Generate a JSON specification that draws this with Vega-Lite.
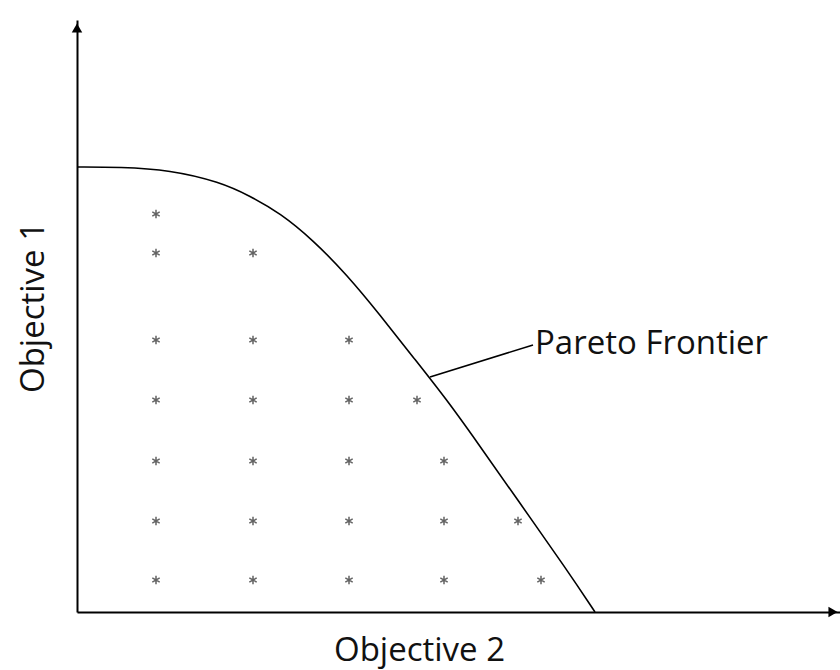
{
  "$schema": "https://vega.github.io/schema/vega-lite/v6.json",
  "width": 763,
  "height": 592,
  "autosize": {"type": "none"},
  "padding": {"left": 77, "top": 20, "right": 0, "bottom": 58},
  "background": "white",
  "config": {"view": {"stroke": null}, "font": "Open Sans"},
  "datasets": {
    "frontier": [
      {"obj2": 0, "obj1": 445},
      {"obj2": 43, "obj1": 445},
      {"obj2": 93, "obj1": 442},
      {"obj2": 143, "obj1": 430},
      {"obj2": 173, "obj1": 416},
      {"obj2": 203, "obj1": 399},
      {"obj2": 236, "obj1": 372},
      {"obj2": 270, "obj1": 337},
      {"obj2": 303, "obj1": 297},
      {"obj2": 336, "obj1": 255},
      {"obj2": 370, "obj1": 212},
      {"obj2": 400, "obj1": 170},
      {"obj2": 440, "obj1": 113},
      {"obj2": 490, "obj1": 42},
      {"obj2": 518, "obj1": 0}
    ],
    "solutions": [
      {"obj2": 79, "obj1": 398},
      {"obj2": 79, "obj1": 359},
      {"obj2": 176, "obj1": 359},
      {"obj2": 79, "obj1": 272},
      {"obj2": 176, "obj1": 272},
      {"obj2": 272, "obj1": 272},
      {"obj2": 79, "obj1": 212},
      {"obj2": 176, "obj1": 212},
      {"obj2": 272, "obj1": 212},
      {"obj2": 340, "obj1": 212},
      {"obj2": 79, "obj1": 151},
      {"obj2": 176, "obj1": 151},
      {"obj2": 272, "obj1": 151},
      {"obj2": 367, "obj1": 151},
      {"obj2": 79, "obj1": 91},
      {"obj2": 176, "obj1": 91},
      {"obj2": 272, "obj1": 91},
      {"obj2": 367, "obj1": 91},
      {"obj2": 441, "obj1": 91},
      {"obj2": 79, "obj1": 32},
      {"obj2": 176, "obj1": 32},
      {"obj2": 272, "obj1": 32},
      {"obj2": 367, "obj1": 32},
      {"obj2": 464, "obj1": 32}
    ],
    "arrows": [
      {"obj2": 0, "obj1": 584, "dir": "up"},
      {"obj2": 756, "obj1": 0, "dir": "right"}
    ],
    "label": [
      {"obj2": 353, "obj1": 235, "obj2b": 456, "obj1b": 267, "text": "Pareto Frontier"}
    ]
  },
  "layer": [
    {
      "data": {"name": "frontier"},
      "mark": {"type": "line", "interpolate": "basis", "color": "black", "strokeWidth": 1.6},
      "encoding": {
        "x": {"field": "obj2", "type": "quantitative", "scale": {"domain": [0, 763], "nice": false, "zero": false},
          "axis": {"domain": true, "domainColor": "black", "domainWidth": 2, "ticks": false, "labels": false, "grid": false,
            "title": "Objective 2", "titleFont": "Open Sans", "titleFontSize": 33, "titleFontWeight": "normal", "titleColor": "#111",
            "titleX": 342, "titleY": 48, "titleBaseline": "alphabetic", "titleAlign": "center"}},
        "y": {"field": "obj1", "type": "quantitative", "scale": {"domain": [0, 592], "nice": false, "zero": false},
          "axis": {"domain": true, "domainColor": "black", "domainWidth": 2, "ticks": false, "labels": false, "grid": false,
            "title": "Objective 1", "titleFont": "Open Sans", "titleFontSize": 33, "titleFontWeight": "normal", "titleColor": "#111",
            "titleX": -34, "titleY": 287, "titleBaseline": "alphabetic", "titleAlign": "center", "titleAngle": -90}}
      }
    },
    {
      "data": {"name": "solutions"},
      "mark": {"type": "point", "shape": "M0,-1L0,1M-0.87,-0.5L0.87,0.5M-0.87,0.5L0.87,-0.5", "filled": false, "stroke": "#222", "strokeWidth": 1.5, "size": 72},
      "encoding": {
        "x": {"field": "obj2", "type": "quantitative"},
        "y": {"field": "obj1", "type": "quantitative"}
      }
    },
    {
      "data": {"name": "arrows"},
      "mark": {"type": "point", "filled": true, "color": "black", "size": 110, "opacity": 1},
      "encoding": {
        "x": {"field": "obj2", "type": "quantitative"},
        "y": {"field": "obj1", "type": "quantitative"},
        "shape": {"field": "dir", "type": "nominal", "scale": {"domain": ["up", "right"], "range": ["triangle-up", "triangle-right"]}, "legend": null}
      }
    },
    {
      "data": {"name": "label"},
      "mark": {"type": "rule", "color": "black", "strokeWidth": 1.6},
      "encoding": {
        "x": {"field": "obj2", "type": "quantitative"},
        "y": {"field": "obj1", "type": "quantitative"},
        "x2": {"field": "obj2b"},
        "y2": {"field": "obj1b"}
      }
    },
    {
      "data": {"name": "label"},
      "mark": {"type": "text", "align": "left", "baseline": "alphabetic", "dx": 2, "dy": 9, "font": "Open Sans", "fontSize": 33, "color": "#111"},
      "encoding": {
        "x": {"field": "obj2b", "type": "quantitative"},
        "y": {"field": "obj1b", "type": "quantitative"},
        "text": {"field": "text"}
      }
    }
  ]
}
